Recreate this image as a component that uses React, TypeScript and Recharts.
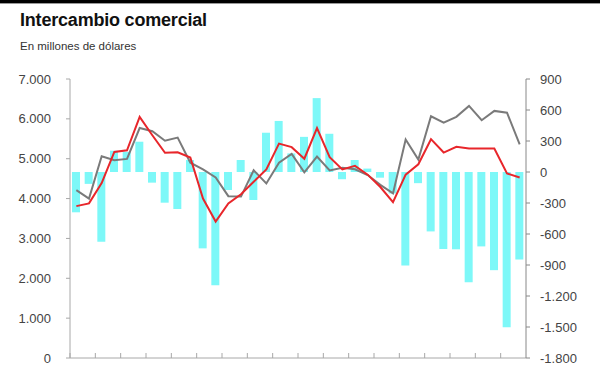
import { ComposedChart, Bar, Line, XAxis, YAxis } from 'recharts';

const periods = Array.from({ length: 36 }, (_, i) => `P${i + 1}`);

// exportaciones (línea roja), millones de dólares
const exportsSeries = [
  3810, 3880, 4390, 5170, 5210, 6050, 5590, 5150, 5160, 5030, 4000, 3425,
  3880, 4110, 4420, 4730, 5380, 5290, 5000, 5770, 5040, 4730, 4820, 4600,
  4290, 3910, 4600, 4860, 5490, 5155, 5300, 5255, 5255, 5255, 4630, 4530,
];

// importaciones (línea gris)
const importsSeries = [
  4210, 4000, 5060, 4960, 4995, 5770, 5690, 5450, 5530, 4900, 4730, 4530,
  4060, 4050, 4710, 4380, 4900, 5120, 4660, 5055, 4705, 4770, 4735, 4590,
  4345, 4130, 5480, 4980, 6065, 5905, 6050, 6325, 5965, 6200, 6155, 5360,
];

// saldo comercial (barras, eje derecho)
const balanceSeries = [
  -390, -115, -675, 206, 195, 293, -103, -297, -358, 116, -739, -1097,
  -174, 116, -271, 380, 494, 180, 340, 715, 370, -70, 116, 33,
  -55, -208, -905, -108, -575, -745, -748, -1066, -720, -950, -1502, -847,
];

const leftTicks = [0, 1000, 2000, 3000, 4000, 5000, 6000, 7000];
const rightTicks = [-1800, -1500, -1200, -900, -600, -300, 0, 300, 600, 900];

const data = periods.map((p, i) => ({
  period: p,
  exportaciones: exportsSeries[i],
  importaciones: importsSeries[i],
  saldo: balanceSeries[i],
}));

const W = 600;
const H = 365;
const LEFT_W = 70;
const RIGHT_W = 74;
const band = (W - LEFT_W - RIGHT_W) / periods.length;
const AXIS = '#a8a8a8';

const fmt = (v: number) => v.toLocaleString('de-DE');

const PeriodTick = ({ x, y, index }: any) => {
  if (index % 2 !== 0) return <g />;
  const tx = x - band / 2;
  return <line x1={tx} x2={tx} y1={y} y2={y - 5} stroke={AXIS} strokeWidth={1} />;
};

export default function App() {
  return (
    <div
      style={{
        position: 'absolute',
        top: 0,
        left: 0,
        width: W,
        height: H,
        background: '#fff',
        fontFamily: '"Liberation Sans", Arial, sans-serif',
        overflow: 'hidden',
      }}
    >
      <div style={{ position: 'absolute', top: 0, left: 0, width: W, height: 3, background: '#000' }} />
      <div style={{ position: 'absolute', top: 3, left: 0, width: W, height: 1, background: '#999' }} />
      <div
        style={{
          position: 'absolute',
          left: 20,
          top: 10,
          fontSize: 18,
          fontWeight: 'bold',
          color: '#111',
          letterSpacing: -0.2,
        }}
      >
        Intercambio comercial
      </div>
      <div style={{ position: 'absolute', left: 20, top: 40, fontSize: 11.5, color: '#333' }}>
        En millones de dólares
      </div>
      <div style={{ position: 'absolute', top: 0, left: 0 }}>
        <ComposedChart
          width={W}
          height={H}
          data={data}
          margin={{ top: 79, right: 0, bottom: 0, left: 0 }}
          barCategoryGap={4}
        >
          <XAxis
            dataKey="period"
            height={7}
            interval={0}
            tickLine={false}
            tickSize={0}
            tickMargin={0}
            axisLine={{ stroke: AXIS }}
            tick={<PeriodTick />}
          />
          <YAxis
            yAxisId="left"
            domain={[0, 7000]}
            ticks={leftTicks}
            interval={0}
            width={LEFT_W}
            tickSize={4}
            tickMargin={15}
            tickFormatter={fmt}
            axisLine={{ stroke: AXIS }}
            tickLine={{ stroke: AXIS }}
            tick={{ fill: '#444', fontSize: 13 }}
          />
          <YAxis
            yAxisId="right"
            orientation="right"
            domain={[-1800, 900]}
            ticks={rightTicks}
            interval={0}
            width={RIGHT_W}
            tickSize={4}
            tickMargin={10}
            tickFormatter={fmt}
            axisLine={{ stroke: '#888' }}
            tickLine={{ stroke: '#888' }}
            tick={{ fill: '#444', fontSize: 13, textAnchor: 'start' }}
          />
          <Bar yAxisId="right" dataKey="saldo" fill="#7df8f8" barSize={8} isAnimationActive={false} />
          <Line
            yAxisId="left"
            dataKey="importaciones"
            stroke="#7a7a7a"
            strokeWidth={2}
            dot={false}
            isAnimationActive={false}
          />
          <Line
            yAxisId="left"
            dataKey="exportaciones"
            stroke="#e8262b"
            strokeWidth={2}
            dot={false}
            isAnimationActive={false}
          />
        </ComposedChart>
      </div>
    </div>
  );
}
